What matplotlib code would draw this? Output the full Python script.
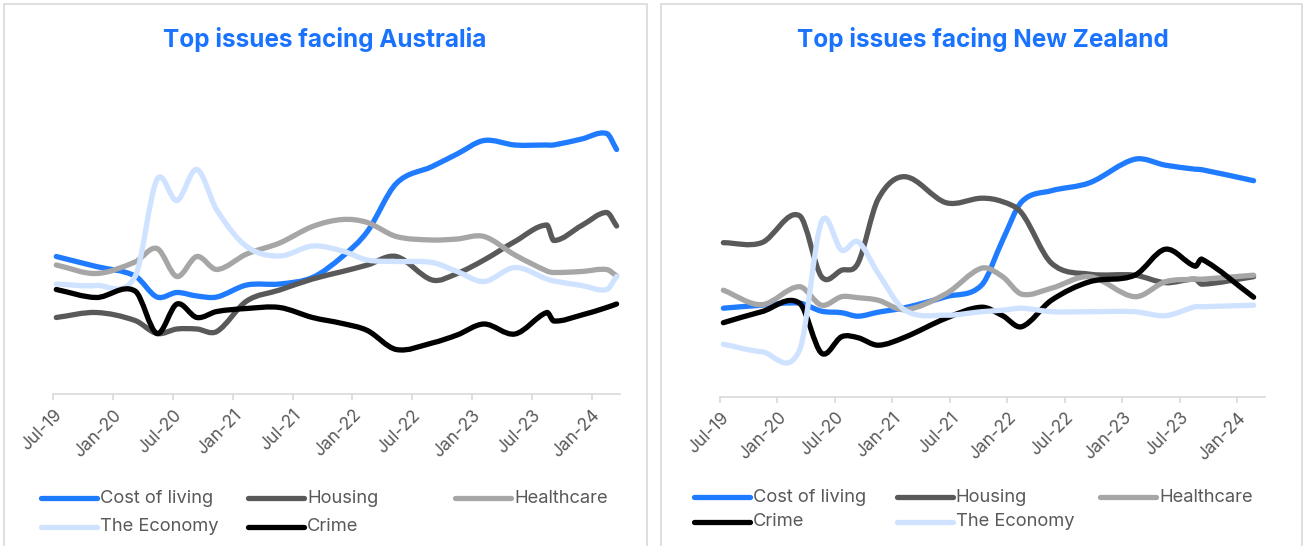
import numpy as np
import matplotlib
matplotlib.use("Agg")
import matplotlib.pyplot as plt
from matplotlib.path import Path
from matplotlib.patches import PathPatch, Rectangle
from matplotlib.lines import Line2D

plt.rcParams['font.family'] = ['Inter', 'DejaVu Sans']

W, H = 1303, 546

# months since Jul-2019 at which values were read
AU_MONTHS = [0.3, 4.3, 8.2, 10.4, 12.4, 14.4, 16.4, 19.4, 22.7, 26.0, 29.0,
             31.5, 34.4, 38.0, 40.5, 43.2, 46.3, 49.5, 50.2, 53.0, 55.5, 56.5]
AU_COST = [27.5, 25.5, 23.6, 19.4, 20.3, 19.6, 19.4, 21.8, 22.0, 23.3, 27.5,
           32.5, 42.1, 45.5, 48.0, 50.7, 49.8, 49.8, 49.8, 51.0, 52.1, 48.9]
AU_HOUSING = [15.3, 16.3, 14.7, 12.1, 13.0, 13.0, 12.5, 18.6, 20.8, 23.0, 24.5,
              25.8, 27.5, 22.8, 24.1, 26.8, 30.5, 33.8, 30.7, 33.7, 36.3, 33.6]
AU_HEALTH = [25.8, 24.1, 26.4, 29.1, 23.5, 27.5, 24.9, 28.0, 30.2, 33.5, 34.9,
             34.3, 31.5, 30.8, 31.0, 31.5, 27.8, 24.6, 24.3, 24.5, 24.9, 23.6]
AU_ECONOMY = [22.0, 21.7, 23.5, 42.9, 38.7, 44.9, 36.8, 29.5, 27.6, 29.6, 28.6,
              26.8, 26.5, 26.3, 24.5, 22.5, 25.3, 23.0, 22.6, 21.7, 20.9, 23.5]
AU_CRIME = [20.9, 19.3, 20.6, 12.1, 18.0, 15.3, 16.5, 17.1, 17.3, 15.3, 14.1,
            12.7, 8.9, 10.2, 11.8, 14.0, 12.0, 16.3, 14.6, 15.8, 17.3, 18.0]

NZ_MONTHS = [0.35, 4.35, 8.3, 10.6, 12.7, 14.4, 16.5, 19.3, 23.6, 27.3, 29.5,
             31.5, 34.6, 38.6, 43.3, 46.5, 49.6, 50.3, 55.7]
NZ_COST = [17.7, 18.3, 18.7, 17.1, 16.8, 16.1, 16.9, 17.8, 20.0, 22.3, 31.3,
           39.0, 41.2, 42.8, 47.5, 46.3, 45.5, 45.4, 43.2]
NZ_HOUSING = [30.8, 30.8, 36.2, 24.0, 25.3, 26.7, 39.5, 44.0, 38.8, 39.7, 39.0,
              36.7, 26.7, 24.5, 24.3, 22.8, 23.5, 22.5, 24.0]
NZ_HEALTH = [21.3, 18.4, 22.0, 18.3, 20.0, 19.8, 19.3, 17.4, 20.6, 25.7, 24.0,
             20.5, 21.7, 24.0, 20.0, 23.0, 23.5, 23.5, 24.3]
NZ_CRIME = [14.8, 17.0, 18.7, 8.7, 12.0, 11.8, 10.3, 11.9, 15.7, 17.9, 16.2,
            14.0, 19.3, 23.0, 24.3, 29.5, 26.1, 27.5, 19.9]
NZ_ECONOMY = [10.5, 9.0, 9.3, 35.0, 29.3, 31.0, 24.7, 17.3, 16.3, 17.0, 17.3,
              17.7, 17.0, 17.0, 17.0, 16.2, 18.0, 18.0, 18.3]

TICK_LABELS = ['Jul-19', 'Jan-20', 'Jul-20', 'Jan-21', 'Jul-21', 'Jan-22',
               'Jul-22', 'Jan-23', 'Jul-23', 'Jan-24']

COLORS = {'Cost of living': '#1f7bff', 'Housing': '#595959',
          'Healthcare': '#a6a6a6', 'The Economy': '#cfe2ff', 'Crime': '#000000'}

AU_SERIES = [('Cost of living', AU_COST), ('Housing', AU_HOUSING),
             ('Healthcare', AU_HEALTH), ('The Economy', AU_ECONOMY),
             ('Crime', AU_CRIME)]
NZ_SERIES = [('Cost of living', NZ_COST), ('Housing', NZ_HOUSING),
             ('Healthcare', NZ_HEALTH), ('Crime', NZ_CRIME),
             ('The Economy', NZ_ECONOMY)]

LW = 3.8
GRID = '#d9d9d9'
TEXT = '#595959'
TITLE = '#1a73ff'


def smooth_path(x, y):
    # smoothed line like Excel: cubic bezier segments through each point
    x = np.asarray(x, float)
    y = np.asarray(y, float)
    n = len(x)
    d = np.zeros(n)
    d[0] = (y[1] - y[0]) / (x[1] - x[0])
    d[-1] = (y[-1] - y[-2]) / (x[-1] - x[-2])
    for i in range(1, n - 1):
        d[i] = (y[i + 1] - y[i - 1]) / (x[i + 1] - x[i - 1])
    verts = [(x[0], y[0])]
    codes = [Path.MOVETO]
    for i in range(n - 1):
        h = x[i + 1] - x[i]
        verts += [(x[i] + h / 3, y[i] + d[i] * h / 3),
                  (x[i + 1] - h / 3, y[i + 1] - d[i + 1] * h / 3),
                  (x[i + 1], y[i + 1])]
        codes += [Path.CURVE4] * 3
    return Path(verts, codes)


def px(x0, y0, x1, y1):
    return [x0 / W, 1 - y1 / H, (x1 - x0) / W, (y1 - y0) / H]


def draw_panel(fig, rect, months, series, xmax, title, title_x,
               leg_x, leg_y):
    ax = fig.add_axes(rect)
    for name, vals in series:
        patch = PathPatch(smooth_path(months, vals), fill=False,
                          edgecolor=COLORS[name], lw=LW)
        patch.set_capstyle('round')
        patch.set_joinstyle('round')
        ax.add_patch(patch)
    ax.set_xlim(0, xmax)
    ax.set_ylim(0, 60)
    for s in ['top', 'right', 'left']:
        ax.spines[s].set_visible(False)
    ax.spines['bottom'].set_color(GRID)
    ax.spines['bottom'].set_linewidth(1.2)
    ax.set_yticks([])
    ax.set_xticks(np.arange(len(TICK_LABELS)) * 6)
    ax.set_xticklabels(TICK_LABELS, rotation=45, ha='right',
                       rotation_mode='anchor', color=TEXT, fontsize=12.5)
    ax.tick_params(axis='x', length=4, width=1.2, color=GRID, pad=5)
    fig.text(title_x / W, 1 - 40 / H, title, ha='center', va='center',
             color=TITLE, fontsize=17.5, fontweight='bold')

    # legend: 3 columns, 2 rows
    for k, (name, _) in enumerate(series):
        cx = leg_x[k % 3]
        cy = 1 - leg_y[k // 3] / H
        fig.add_artist(Line2D([cx / W, (cx + 56) / W], [cy, cy],
                              color=COLORS[name], lw=LW,
                              solid_capstyle='round'))
        fig.text((cx + 59) / W, cy, name, ha='left', va='center',
                 color=TEXT, fontsize=13.2)
    return ax


fig = plt.figure(figsize=(W / 100, H / 100), dpi=100)

fig.add_artist(Rectangle((4 / W, -0.01), 643 / W, 1 - 4 / H + 0.01,
                         transform=fig.transFigure, fill=False,
                         edgecolor=GRID, lw=1.2))
fig.add_artist(Rectangle((661 / W, -0.01), 641 / W, 1 - 4 / H + 0.01,
                         transform=fig.transFigure, fill=False,
                         edgecolor=GRID, lw=1.2))

draw_panel(fig, px(53.3, 94, 620, 394), AU_MONTHS, AU_SERIES,
           (620 - 53.3) / 9.97, 'Top issues facing Australia', 325,
           [40.7, 248.3, 455], [498.3, 526.7])
draw_panel(fig, px(720, 96.7, 1265, 396.7), NZ_MONTHS, NZ_SERIES,
           (1265 - 720) / 9.58, 'Top issues facing New Zealand', 983,
           [694.3, 896.7, 1100], [497.3, 521.7])

fig.savefig('out.png', dpi=100)
